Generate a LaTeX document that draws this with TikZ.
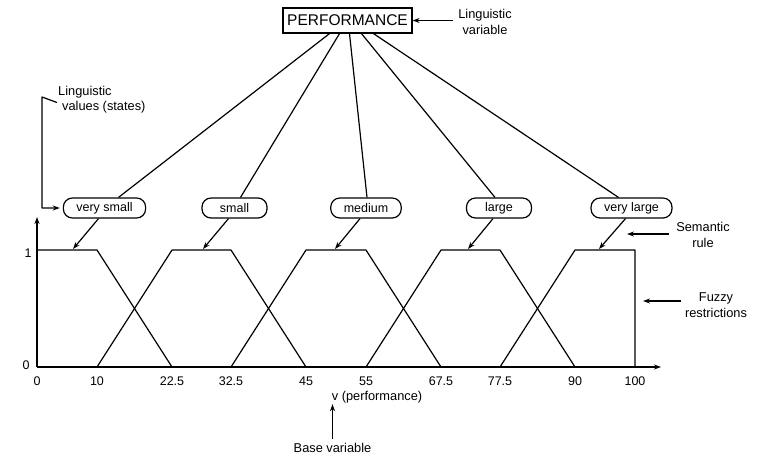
\documentclass[tikz,border=0pt]{standalone}
\usepackage{fontspec}
\setmainfont{Liberation Sans}
\usetikzlibrary{arrows.meta}
\begin{document}
\begin{tikzpicture}[x=1pt,y=-1pt,
  ln/.style={line width=1.2pt,line join=round},
  arr/.style={ln,-{Stealth[length=7pt,width=5pt]}},
  val/.style={draw,line width=1.2pt,rounded corners=9pt,minimum height=20pt,minimum width=65pt,inner xsep=13pt,inner ysep=2pt,font=\fontsize{12.5}{14}\selectfont},
  lab/.style={font=\fontsize{12.8}{15.5}\selectfont,align=center,inner sep=1pt},
  tick/.style={font=\fontsize{12.5}{14}\selectfont,inner sep=1pt}]
\useasboundingbox (0,0) rectangle (759,459);
% top variable
\node[draw,line width=1.2pt,minimum width=129pt,minimum height=25pt,inner sep=2pt,font=\fontsize{15.5}{17}\selectfont] (perf) at (347.5,20.5) {PERFORMANCE};
\node[lab] (lvar) at (485,22) {Linguistic\\variable};
\draw[arr] (lvar.west |- perf.east) ++(-4,0) -- (perf.east);
% values
\node[val] (vs) at (104.5,208) {very small};
\node[val] (s)  at (234.5,208) {small};
\node[val] (m)  at (366,208) {medium};
\node[val] (l)  at (499,208) {large};
\node[val] (vl) at (631.5,208) {very large};
% fan lines
\draw[ln] ([xshift=-18pt]perf.south) -- ([xshift=14pt]vs.north);
\draw[ln] ([xshift=-8pt]perf.south) -- ([xshift=6pt]s.north);
\draw[ln] ([xshift=2pt]perf.south) -- ([xshift=1pt]m.north);
\draw[ln] ([xshift=14pt]perf.south) -- ([xshift=-4pt]l.north);
\draw[ln] ([xshift=26pt]perf.south) -- ([xshift=-13pt]vl.north);
% linguistic values annotation
\node[lab,anchor=west,align=left] (lv) at (57,99.5) {Linguistic\\\hspace{4pt}values (states)};
\draw[arr] ([yshift=-3pt]lv.west) -- (42,97) |- ([xshift=-3pt]vs.west);
% axes
\coordinate (O) at (37,367);
\coordinate (ytop) at (37,217);
\coordinate (xend) at (661,367);
\draw[arr] (O) -- (ytop);
\draw[arr] (O) -- (xend);
\node[tick] (one) at (28,253) {1};
\node[tick] (zero) at (26,365) {0};
% membership functions
\coordinate (t1) at (37,250);
\draw[ln] (t1) -- (97,250) -- (172,367);
\draw[ln] (97,367) -- (172,250) -- (231,250) -- (306,367);
\draw[ln] (231,367) -- (306,250) -- (366,250) -- (441,367);
\draw[ln] (366,367) -- (441,250) -- (500,250) -- (575,367);
\draw[ln] (500,367) -- (575,250) -- (635,250) -- (635,367);
% semantic rule arrows
\foreach \n/\tx in {vs/73,s/203,m/335,l/468,vl/599}{
  \coordinate (tip\n) at (\tx,249);
  \draw[arr] ([xshift=-6pt]\n.south) -- (tip\n);
}
% tick labels
\foreach \v/\px in {0/37,10/97,22.5/172,32.5/231,45/306,55/366,67.5/441,77.5/500,90/575,100/635}{
  \node[tick] (tk\px) at (\px,381) {\v};
}
% right annotations
\node[lab] (sem) at (703,235) {Semantic\\rule};
\coordinate (semtip) at (627,234);
\draw[arr] (sem.west |- semtip) ++(-6,0) -- (semtip);
\node[lab] (fz) at (716,305) {Fuzzy\\restrictions};
\coordinate (fztip) at (643,301);
\draw[arr] (fz.west |- fztip) ++(-3,0) -- (fztip);
% base variable
\node[tick,font=\fontsize{12.8}{14}\selectfont] (vlab) at (377,397) {v (performance)};
\node[tick,font=\fontsize{12.8}{14}\selectfont] (bv) at (332.5,448) {Base variable};
\draw[arr] ([yshift=3pt]bv.north) -- (bv.north |- vlab.south);
\end{tikzpicture}
\end{document}
